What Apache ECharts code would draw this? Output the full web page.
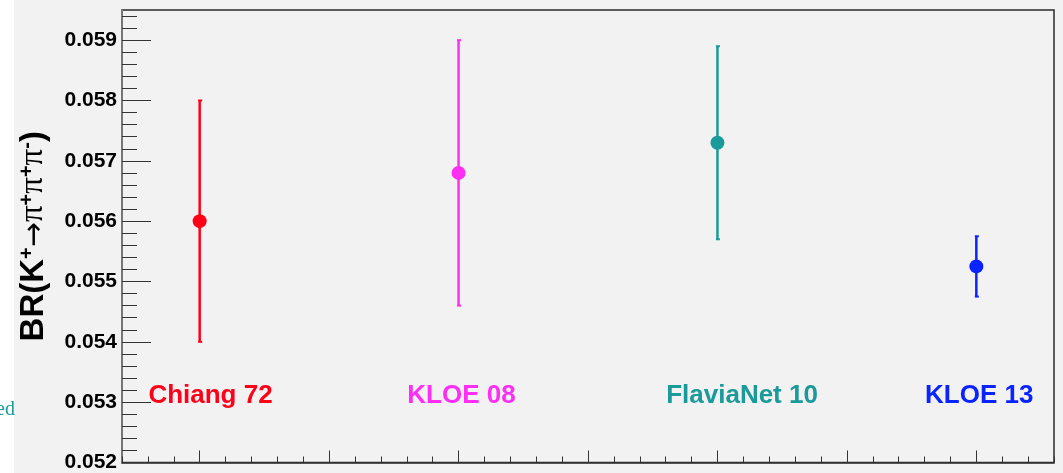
<!DOCTYPE html>
<html>
<head>
<meta charset="utf-8">
<script src="https://cdn.jsdelivr.net/npm/echarts@6/dist/echarts.min.js"></script>
<style>
  html, body { margin: 0; padding: 0; background: #f2f2f2; }
  #chart { width: 1063px; height: 473px; }
</style>
</head>
<body>
<div id="chart"></div>
<script>
// Measurements of BR(K+ -> pi+ pi+ pi-)
const experiments = ['Chiang 72', 'KLOE 08', 'FlaviaNet 10', 'KLOE 13'];
const xPositions = [1, 2, 3, 4];
const branchingRatio = [0.0560, 0.0568, 0.0573, 0.05525];
const uncertainty = [0.0020, 0.0022, 0.0016, 0.0005];
const yTickValues = [0.052, 0.053, 0.054, 0.055, 0.056, 0.057, 0.058, 0.059];
const yTickLabels = ['0.052', '0.053', '0.054', '0.055', '0.056', '0.057', '0.058', '0.059'];

const colors = ['#ff0019', '#ff2ef5', '#1a9a9a', '#0a24ff'];

const X_MIN = 0.7, X_MAX = 4.3;
const Y_MIN = 0.052, Y_MAX = 0.0595;
const LABEL_Y = 0.0531;

// tick positions along the frame
const xMajor = [];
const xMinor = [];
for (let k = 7; k <= 43; k++) {
  if (k % 5 === 0) xMajor.push(k / 10); else xMinor.push(k / 10);
}
const yMinor = [];
for (let k = 520; k <= 595; k += 2) {
  if (k % 10 !== 0) yMinor.push(k / 10000);
}

const errorData = xPositions.map((x, i) => [x, branchingRatio[i], uncertainty[i]]);
const pointData = xPositions.map((x, i) => ({ value: [x, branchingRatio[i]], itemStyle: { color: colors[i], opacity: 1 } }));
const labelData = xPositions.map((x, i) => ({
  name: experiments[i],
  value: [x - 0.2, LABEL_Y],
  label: { color: colors[i] }
}));

const chart = echarts.init(document.getElementById('chart'));

chart.setOption({
  backgroundColor: '#f2f2f2',
  animation: false,
  graphic: [
    { type: 'rect', left: 0, top: 0, shape: { width: 14, height: 473 }, style: { fill: '#ffffff' }, z: 0 },
    { type: 'text', x: 15, y: 410, style: { text: 'ed', fill: '#1a9a9a', font: '20px "Liberation Serif"', align: 'right', verticalAlign: 'middle' }, z: 1 }
  ],
  grid: {
    left: 122, right: 9, top: 10, bottom: 10,
    show: true, backgroundColor: '#f2f2f2', borderColor: '#2a2a2a', borderWidth: 1.5
  },
  xAxis: [
    {
      type: 'value', min: X_MIN, max: X_MAX, position: 'bottom',
      axisLine: { show: true, onZero: false, lineStyle: { color: '#333', width: 1.5 } },
      axisTick: { show: true, inside: true, length: 12, customValues: xMajor, lineStyle: { color: '#333', width: 1 } },
      axisLabel: { show: false },
      splitLine: { show: false }
    },
    {
      type: 'value', min: X_MIN, max: X_MAX, position: 'bottom', offset: 0,
      axisLine: { show: false },
      axisTick: { show: true, inside: true, length: 6, customValues: xMinor, lineStyle: { color: '#333', width: 1 } },
      axisLabel: { show: false },
      splitLine: { show: false }
    }
  ],
  yAxis: [
    {
      type: 'value', min: Y_MIN, max: Y_MAX, position: 'left',
      axisLine: { show: true, onZero: false, lineStyle: { color: '#777', width: 2 } },
      axisTick: { show: true, inside: true, length: 29, customValues: yTickValues, lineStyle: { color: '#333', width: 1 } },
      axisLabel: {
        show: true, customValues: yTickValues, margin: 5,
        formatter: v => yTickLabels[yTickValues.findIndex(t => Math.abs(t - v) < 1e-9)],
        color: '#000', fontFamily: 'Liberation Sans', fontWeight: 'bold', fontSize: 21
      },
      splitLine: { show: false },
      name: '{b|BR(K}{s|+}{a|→}{p|π}{s|+}{p|π}{s|+}{p|π}{s|-}{b|)}',
      nameLocation: 'middle', nameRotate: 90, nameGap: 72,
      nameTextStyle: {
        rich: {
          b: { fontFamily: 'Liberation Sans', fontWeight: 'bold', fontSize: 33, color: '#000', verticalAlign: 'bottom' },
          a: { fontFamily: 'DejaVu Sans', fontSize: 30, color: '#000', verticalAlign: 'bottom' },
          p: { fontFamily: 'Liberation Serif', fontSize: 33, color: '#000', verticalAlign: 'bottom' },
          s: { fontFamily: 'Liberation Sans', fontWeight: 'bold', fontSize: 20, color: '#000', verticalAlign: 'top' }
        }
      }
    },
    {
      type: 'value', min: Y_MIN, max: Y_MAX, position: 'left', offset: 0,
      axisLine: { show: false },
      axisTick: { show: true, inside: true, length: 15, customValues: yMinor, lineStyle: { color: '#333', width: 1 } },
      axisLabel: { show: false },
      splitLine: { show: false }
    }
  ],
  series: [
    {
      type: 'custom',
      xAxisIndex: 0, yAxisIndex: 0,
      data: errorData,
      z: 2,
      renderItem: (params, api) => {
        const x = api.value(0), v = api.value(1), e = api.value(2);
        const top = api.coord([x, v + e]);
        const bot = api.coord([x, v - e]);
        const color = colors[params.dataIndex];
        return {
          type: 'group',
          children: [
            { type: 'line', shape: { x1: top[0], y1: top[1], x2: bot[0], y2: bot[1] }, style: { stroke: color, lineWidth: 2.5 } },
            { type: 'line', shape: { x1: top[0] - 1.5, y1: top[1], x2: top[0] + 2.5, y2: top[1] }, style: { stroke: color, lineWidth: 2 } },
            { type: 'line', shape: { x1: bot[0] - 1.5, y1: bot[1], x2: bot[0] + 2.5, y2: bot[1] }, style: { stroke: color, lineWidth: 2 } }
          ]
        };
      }
    },
    {
      type: 'scatter',
      xAxisIndex: 0, yAxisIndex: 0,
      data: pointData,
      symbol: 'circle', symbolSize: 14,
      itemStyle: { opacity: 1 },
      z: 3
    },
    {
      type: 'scatter',
      xAxisIndex: 0, yAxisIndex: 0,
      data: labelData,
      symbolSize: 1,
      itemStyle: { color: 'rgba(0,0,0,0)', opacity: 1 },
      z: 4,
      label: {
        show: true, position: 'right', distance: 0,
        formatter: p => p.name,
        fontFamily: 'Liberation Sans', fontWeight: 'bold', fontSize: 26
      }
    }
  ]
});
</script>
</body>
</html>
